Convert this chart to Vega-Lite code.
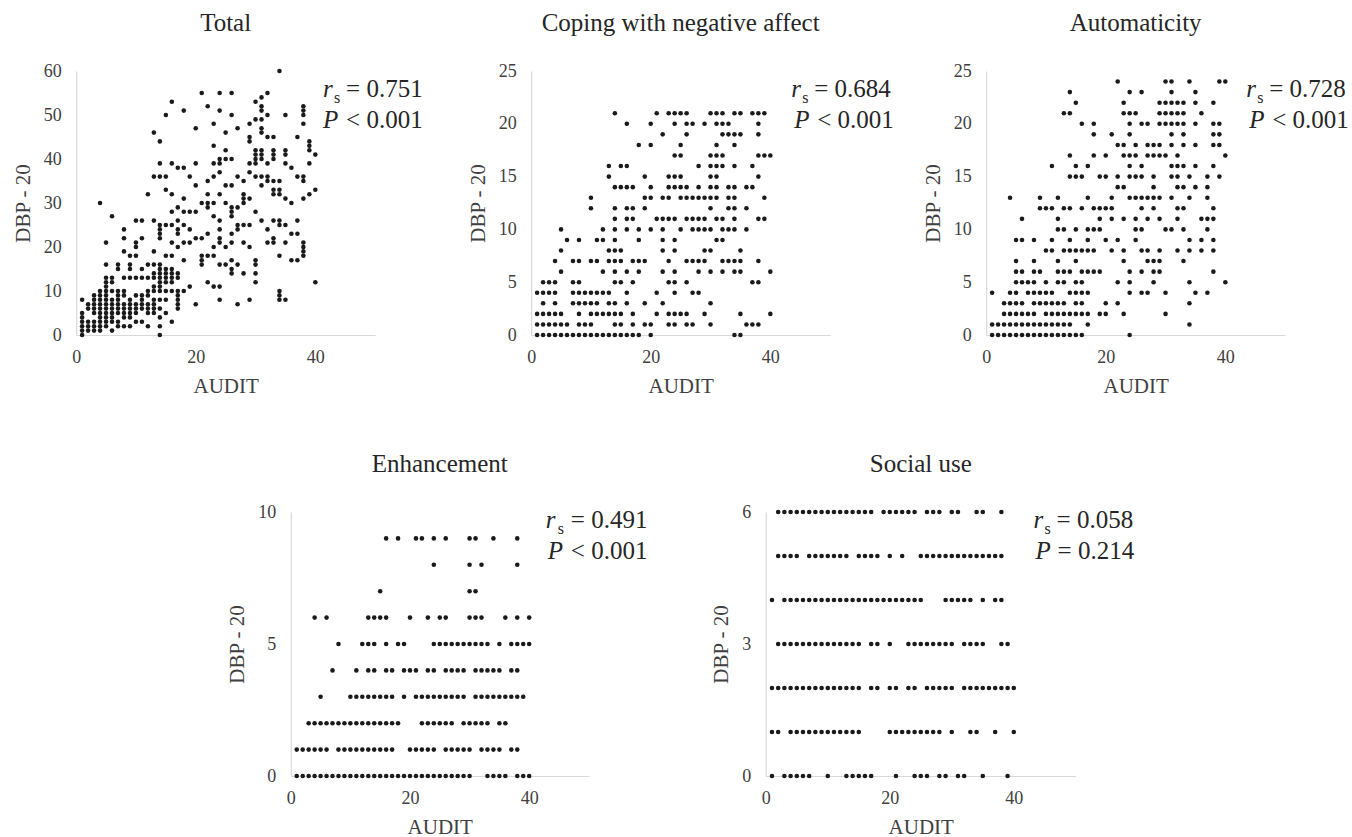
{
"$schema": "https://vega.github.io/schema/vega-lite/v6.json",
"padding": {"left": 12, "top": 11, "right": 2, "bottom": 5},
"center": true,
"spacing": 56,
"datasets": {
"total": [
{"x":1,"y":0},{"x":1,"y":1},{"x":1,"y":2},{"x":1,"y":3},{"x":1,"y":4},{"x":1,"y":5},{"x":1,"y":8},
{"x":2,"y":1},{"x":2,"y":2},{"x":2,"y":3},{"x":2,"y":6},{"x":2,"y":7},
{"x":3,"y":1},{"x":3,"y":2},{"x":3,"y":3},{"x":3,"y":5},{"x":3,"y":6},{"x":3,"y":7},{"x":3,"y":8},{"x":3,"y":9},
{"x":4,"y":1},{"x":4,"y":2},{"x":4,"y":3},{"x":4,"y":4},{"x":4,"y":5},{"x":4,"y":6},{"x":4,"y":7},{"x":4,"y":8},{"x":4,"y":9},{"x":4,"y":10},{"x":4,"y":30},
{"x":5,"y":2},{"x":5,"y":3},{"x":5,"y":4},{"x":5,"y":5},{"x":5,"y":6},{"x":5,"y":7},{"x":5,"y":8},{"x":5,"y":9},{"x":5,"y":10},{"x":5,"y":11},{"x":5,"y":12},{"x":5,"y":13},{"x":5,"y":16},{"x":5,"y":21},
{"x":6,"y":1},{"x":6,"y":3},{"x":6,"y":4},{"x":6,"y":5},{"x":6,"y":6},{"x":6,"y":7},{"x":6,"y":8},{"x":6,"y":10},{"x":6,"y":12},{"x":6,"y":13},{"x":6,"y":27},
{"x":7,"y":2},{"x":7,"y":3},{"x":7,"y":5},{"x":7,"y":6},{"x":7,"y":7},{"x":7,"y":8},{"x":7,"y":9},{"x":7,"y":10},{"x":7,"y":15},{"x":7,"y":16},
{"x":8,"y":2},{"x":8,"y":4},{"x":8,"y":5},{"x":8,"y":6},{"x":8,"y":7},{"x":8,"y":9},{"x":8,"y":10},{"x":8,"y":13},{"x":8,"y":19},{"x":8,"y":22},{"x":8,"y":24},
{"x":9,"y":2},{"x":9,"y":4},{"x":9,"y":5},{"x":9,"y":6},{"x":9,"y":7},{"x":9,"y":8},{"x":9,"y":13},{"x":9,"y":15},{"x":9,"y":16},{"x":9,"y":18},
{"x":10,"y":3},{"x":10,"y":5},{"x":10,"y":6},{"x":10,"y":7},{"x":10,"y":9},{"x":10,"y":13},{"x":10,"y":18},{"x":10,"y":20},{"x":10,"y":21},{"x":10,"y":26},
{"x":11,"y":3},{"x":11,"y":6},{"x":11,"y":7},{"x":11,"y":8},{"x":11,"y":9},{"x":11,"y":13},{"x":11,"y":15},{"x":11,"y":22},{"x":11,"y":26},
{"x":12,"y":2},{"x":12,"y":5},{"x":12,"y":6},{"x":12,"y":7},{"x":12,"y":9},{"x":12,"y":10},{"x":12,"y":13},{"x":12,"y":16},{"x":12,"y":32},
{"x":13,"y":5},{"x":13,"y":6},{"x":13,"y":7},{"x":13,"y":8},{"x":13,"y":10},{"x":13,"y":11},{"x":13,"y":13},{"x":13,"y":14},{"x":13,"y":16},{"x":13,"y":19},{"x":13,"y":26},{"x":13,"y":36},{"x":13,"y":46},
{"x":14,"y":0},{"x":14,"y":2},{"x":14,"y":4},{"x":14,"y":6},{"x":14,"y":8},{"x":14,"y":10},{"x":14,"y":11},{"x":14,"y":12},{"x":14,"y":13},{"x":14,"y":14},{"x":14,"y":15},{"x":14,"y":16},{"x":14,"y":22},{"x":14,"y":23},{"x":14,"y":24},{"x":14,"y":25},{"x":14,"y":36},{"x":14,"y":39},{"x":14,"y":44},
{"x":15,"y":5},{"x":15,"y":8},{"x":15,"y":10},{"x":15,"y":12},{"x":15,"y":13},{"x":15,"y":14},{"x":15,"y":15},{"x":15,"y":18},{"x":15,"y":25},{"x":15,"y":33},{"x":15,"y":36},{"x":15,"y":50},
{"x":16,"y":3},{"x":16,"y":10},{"x":16,"y":12},{"x":16,"y":13},{"x":16,"y":14},{"x":16,"y":15},{"x":16,"y":18},{"x":16,"y":21},{"x":16,"y":25},{"x":16,"y":28},{"x":16,"y":32},{"x":16,"y":39},{"x":16,"y":53},
{"x":17,"y":6},{"x":17,"y":7},{"x":17,"y":8},{"x":17,"y":9},{"x":17,"y":10},{"x":17,"y":13},{"x":17,"y":14},{"x":17,"y":20},{"x":17,"y":23},{"x":17,"y":24},{"x":17,"y":26},{"x":17,"y":29},{"x":17,"y":38},
{"x":18,"y":10},{"x":18,"y":17},{"x":18,"y":21},{"x":18,"y":25},{"x":18,"y":28},{"x":18,"y":31},{"x":18,"y":38},{"x":18,"y":51},
{"x":19,"y":11},{"x":19,"y":21},{"x":19,"y":24},{"x":19,"y":28},{"x":19,"y":36},
{"x":20,"y":7},{"x":20,"y":22},{"x":20,"y":28},{"x":20,"y":34},{"x":20,"y":39},{"x":20,"y":47},
{"x":21,"y":16},{"x":21,"y":17},{"x":21,"y":18},{"x":21,"y":22},{"x":21,"y":30},{"x":21,"y":55},
{"x":22,"y":12},{"x":22,"y":18},{"x":22,"y":23},{"x":22,"y":29},{"x":22,"y":30},{"x":22,"y":32},{"x":22,"y":35},{"x":22,"y":52},
{"x":23,"y":11},{"x":23,"y":18},{"x":23,"y":20},{"x":23,"y":27},{"x":23,"y":30},{"x":23,"y":36},{"x":23,"y":39},{"x":23,"y":43},{"x":23,"y":48},
{"x":24,"y":8},{"x":24,"y":11},{"x":24,"y":16},{"x":24,"y":21},{"x":24,"y":22},{"x":24,"y":24},{"x":24,"y":26},{"x":24,"y":32},{"x":24,"y":37},{"x":24,"y":39},{"x":24,"y":40},{"x":24,"y":51},{"x":24,"y":55},
{"x":25,"y":16},{"x":25,"y":20},{"x":25,"y":30},{"x":25,"y":34},{"x":25,"y":40},{"x":25,"y":42},{"x":25,"y":46},
{"x":26,"y":14},{"x":26,"y":15},{"x":26,"y":17},{"x":26,"y":21},{"x":26,"y":23},{"x":26,"y":27},{"x":26,"y":28},{"x":26,"y":29},{"x":26,"y":34},{"x":26,"y":40},{"x":26,"y":50},{"x":26,"y":55},
{"x":27,"y":7},{"x":27,"y":16},{"x":27,"y":24},{"x":27,"y":25},{"x":27,"y":29},{"x":27,"y":36},{"x":27,"y":47},
{"x":28,"y":14},{"x":28,"y":21},{"x":28,"y":25},{"x":28,"y":30},{"x":28,"y":31},{"x":28,"y":32},{"x":28,"y":35},
{"x":29,"y":8},{"x":29,"y":20},{"x":29,"y":25},{"x":29,"y":31},{"x":29,"y":37},{"x":29,"y":39},{"x":29,"y":44},{"x":29,"y":45},{"x":29,"y":48},
{"x":30,"y":12},{"x":30,"y":14},{"x":30,"y":16},{"x":30,"y":17},{"x":30,"y":28},{"x":30,"y":36},{"x":30,"y":39},{"x":30,"y":40},{"x":30,"y":41},{"x":30,"y":42},{"x":30,"y":49},{"x":30,"y":53},
{"x":31,"y":26},{"x":31,"y":34},{"x":31,"y":36},{"x":31,"y":40},{"x":31,"y":41},{"x":31,"y":42},{"x":31,"y":46},{"x":31,"y":47},{"x":31,"y":49},{"x":31,"y":51},{"x":31,"y":52},{"x":31,"y":54},
{"x":32,"y":21},{"x":32,"y":24},{"x":32,"y":35},{"x":32,"y":36},{"x":32,"y":39},{"x":32,"y":45},{"x":32,"y":50},{"x":32,"y":55},
{"x":33,"y":21},{"x":33,"y":22},{"x":33,"y":26},{"x":33,"y":32},{"x":33,"y":33},{"x":33,"y":35},{"x":33,"y":40},{"x":33,"y":41},{"x":33,"y":42},{"x":33,"y":45},
{"x":34,"y":8},{"x":34,"y":9},{"x":34,"y":10},{"x":34,"y":18},{"x":34,"y":25},{"x":34,"y":26},{"x":34,"y":32},{"x":34,"y":33},{"x":34,"y":35},{"x":34,"y":60},
{"x":35,"y":8},{"x":35,"y":21},{"x":35,"y":25},{"x":35,"y":31},{"x":35,"y":39},{"x":35,"y":41},{"x":35,"y":42},{"x":35,"y":50},
{"x":36,"y":17},{"x":36,"y":23},{"x":36,"y":30},{"x":36,"y":38},
{"x":37,"y":17},{"x":37,"y":23},{"x":37,"y":26},{"x":37,"y":36},{"x":37,"y":45},
{"x":38,"y":18},{"x":38,"y":19},{"x":38,"y":20},{"x":38,"y":21},{"x":38,"y":31},{"x":38,"y":35},{"x":38,"y":36},{"x":38,"y":48},{"x":38,"y":50},{"x":38,"y":51},{"x":38,"y":52},
{"x":39,"y":32},{"x":39,"y":39},{"x":39,"y":42},{"x":39,"y":43},{"x":39,"y":44},
{"x":40,"y":12},{"x":40,"y":33},{"x":40,"y":41}
],
"coping": [
{"y":21,"x":14},{"y":21,"x":21},{"y":21,"x":23},{"y":21,"x":24},{"y":21,"x":25},{"y":21,"x":26},{"y":21,"x":30},{"y":21,"x":31},{"y":21,"x":32},{"y":21,"x":34},{"y":21,"x":35},{"y":21,"x":37},{"y":21,"x":38},{"y":21,"x":39},
{"y":20,"x":16},{"y":20,"x":20},{"y":20,"x":24},{"y":20,"x":26},{"y":20,"x":27},{"y":20,"x":29},{"y":20,"x":31},{"y":20,"x":32},{"y":20,"x":33},{"y":20,"x":38},
{"y":19,"x":22},{"y":19,"x":26},{"y":19,"x":32},{"y":19,"x":33},{"y":19,"x":34},{"y":19,"x":35},{"y":19,"x":38},
{"y":18,"x":18},{"y":18,"x":20},{"y":18,"x":25},{"y":18,"x":31},{"y":18,"x":34},
{"y":17,"x":24},{"y":17,"x":25},{"y":17,"x":30},{"y":17,"x":31},{"y":17,"x":32},{"y":17,"x":38},{"y":17,"x":39},{"y":17,"x":40},
{"y":16,"x":13},{"y":16,"x":15},{"y":16,"x":16},{"y":16,"x":28},{"y":16,"x":30},{"y":16,"x":31},{"y":16,"x":32},{"y":16,"x":34},{"y":16,"x":37},
{"y":15,"x":13},{"y":15,"x":19},{"y":15,"x":23},{"y":15,"x":24},{"y":15,"x":25},{"y":15,"x":30},{"y":15,"x":31},{"y":15,"x":38},
{"y":14,"x":14},{"y":14,"x":15},{"y":14,"x":16},{"y":14,"x":17},{"y":14,"x":20},{"y":14,"x":23},{"y":14,"x":24},{"y":14,"x":25},{"y":14,"x":26},{"y":14,"x":28},{"y":14,"x":30},{"y":14,"x":31},{"y":14,"x":33},{"y":14,"x":34},{"y":14,"x":36},{"y":14,"x":37},
{"y":13,"x":10},{"y":13,"x":19},{"y":13,"x":20},{"y":13,"x":22},{"y":13,"x":23},{"y":13,"x":25},{"y":13,"x":26},{"y":13,"x":27},{"y":13,"x":28},{"y":13,"x":29},{"y":13,"x":30},{"y":13,"x":31},{"y":13,"x":33},{"y":13,"x":34},{"y":13,"x":39},
{"y":12,"x":10},{"y":12,"x":14},{"y":12,"x":16},{"y":12,"x":17},{"y":12,"x":19},{"y":12,"x":30},{"y":12,"x":33},{"y":12,"x":34},{"y":12,"x":36},
{"y":11,"x":14},{"y":11,"x":16},{"y":11,"x":17},{"y":11,"x":21},{"y":11,"x":22},{"y":11,"x":23},{"y":11,"x":24},{"y":11,"x":26},{"y":11,"x":27},{"y":11,"x":28},{"y":11,"x":29},{"y":11,"x":31},{"y":11,"x":32},{"y":11,"x":34},{"y":11,"x":38},{"y":11,"x":39},
{"y":10,"x":5},{"y":10,"x":12},{"y":10,"x":14},{"y":10,"x":16},{"y":10,"x":18},{"y":10,"x":20},{"y":10,"x":22},{"y":10,"x":25},{"y":10,"x":27},{"y":10,"x":28},{"y":10,"x":29},{"y":10,"x":30},{"y":10,"x":32},{"y":10,"x":33},{"y":10,"x":34},{"y":10,"x":36},
{"y":9,"x":6},{"y":9,"x":8},{"y":9,"x":11},{"y":9,"x":12},{"y":9,"x":14},{"y":9,"x":18},{"y":9,"x":22},{"y":9,"x":24},{"y":9,"x":31},{"y":9,"x":32},
{"y":8,"x":5},{"y":8,"x":13},{"y":8,"x":14},{"y":8,"x":15},{"y":8,"x":22},{"y":8,"x":24},{"y":8,"x":29},{"y":8,"x":30},{"y":8,"x":35},
{"y":7,"x":4},{"y":7,"x":7},{"y":7,"x":8},{"y":7,"x":10},{"y":7,"x":11},{"y":7,"x":13},{"y":7,"x":14},{"y":7,"x":15},{"y":7,"x":17},{"y":7,"x":18},{"y":7,"x":19},{"y":7,"x":23},{"y":7,"x":26},{"y":7,"x":27},{"y":7,"x":28},{"y":7,"x":29},{"y":7,"x":32},{"y":7,"x":33},{"y":7,"x":34},{"y":7,"x":35},{"y":7,"x":38},
{"y":6,"x":5},{"y":6,"x":12},{"y":6,"x":14},{"y":6,"x":16},{"y":6,"x":18},{"y":6,"x":22},{"y":6,"x":24},{"y":6,"x":28},{"y":6,"x":30},{"y":6,"x":32},{"y":6,"x":34},{"y":6,"x":35},{"y":6,"x":40},
{"y":5,"x":2},{"y":5,"x":3},{"y":5,"x":4},{"y":5,"x":7},{"y":5,"x":8},{"y":5,"x":14},{"y":5,"x":15},{"y":5,"x":17},{"y":5,"x":23},{"y":5,"x":24},{"y":5,"x":26},{"y":5,"x":37},{"y":5,"x":38},
{"y":4,"x":1},{"y":4,"x":2},{"y":4,"x":3},{"y":4,"x":4},{"y":4,"x":7},{"y":4,"x":8},{"y":4,"x":9},{"y":4,"x":10},{"y":4,"x":11},{"y":4,"x":12},{"y":4,"x":13},{"y":4,"x":16},{"y":4,"x":21},{"y":4,"x":24},{"y":4,"x":27},{"y":4,"x":28},
{"y":3,"x":2},{"y":3,"x":4},{"y":3,"x":7},{"y":3,"x":8},{"y":3,"x":9},{"y":3,"x":10},{"y":3,"x":11},{"y":3,"x":13},{"y":3,"x":14},{"y":3,"x":16},{"y":3,"x":19},{"y":3,"x":22},{"y":3,"x":30},
{"y":2,"x":1},{"y":2,"x":2},{"y":2,"x":3},{"y":2,"x":4},{"y":2,"x":5},{"y":2,"x":8},{"y":2,"x":10},{"y":2,"x":11},{"y":2,"x":12},{"y":2,"x":13},{"y":2,"x":14},{"y":2,"x":15},{"y":2,"x":17},{"y":2,"x":21},{"y":2,"x":23},{"y":2,"x":24},{"y":2,"x":25},{"y":2,"x":26},{"y":2,"x":29},{"y":2,"x":35},{"y":2,"x":40},
{"y":1,"x":1},{"y":1,"x":2},{"y":1,"x":3},{"y":1,"x":4},{"y":1,"x":5},{"y":1,"x":6},{"y":1,"x":8},{"y":1,"x":9},{"y":1,"x":10},{"y":1,"x":14},{"y":1,"x":15},{"y":1,"x":17},{"y":1,"x":19},{"y":1,"x":20},{"y":1,"x":23},{"y":1,"x":24},{"y":1,"x":26},{"y":1,"x":27},{"y":1,"x":30},{"y":1,"x":36},{"y":1,"x":37},{"y":1,"x":38},
{"y":0,"x":1},{"y":0,"x":2},{"y":0,"x":3},{"y":0,"x":4},{"y":0,"x":5},{"y":0,"x":6},{"y":0,"x":7},{"y":0,"x":8},{"y":0,"x":9},{"y":0,"x":10},{"y":0,"x":11},{"y":0,"x":12},{"y":0,"x":13},{"y":0,"x":14},{"y":0,"x":15},{"y":0,"x":16},{"y":0,"x":17},{"y":0,"x":18},{"y":0,"x":20},{"y":0,"x":34},{"y":0,"x":35}
],
"auto": [
{"y":24,"x":22},{"y":24,"x":30},{"y":24,"x":31},{"y":24,"x":34},{"y":24,"x":39},{"y":24,"x":40},
{"y":23,"x":14},{"y":23,"x":24},{"y":23,"x":26},{"y":23,"x":31},{"y":23,"x":35},
{"y":22,"x":15},{"y":22,"x":23},{"y":22,"x":29},{"y":22,"x":30},{"y":22,"x":31},{"y":22,"x":32},{"y":22,"x":33},{"y":22,"x":35},{"y":22,"x":38},
{"y":21,"x":13},{"y":21,"x":14},{"y":21,"x":23},{"y":21,"x":24},{"y":21,"x":25},{"y":21,"x":29},{"y":21,"x":30},{"y":21,"x":31},{"y":21,"x":32},{"y":21,"x":33},{"y":21,"x":36},
{"y":20,"x":16},{"y":20,"x":18},{"y":20,"x":24},{"y":20,"x":26},{"y":20,"x":27},{"y":20,"x":29},{"y":20,"x":30},{"y":20,"x":31},{"y":20,"x":32},{"y":20,"x":33},{"y":20,"x":35},{"y":20,"x":38},{"y":20,"x":39},
{"y":19,"x":18},{"y":19,"x":21},{"y":19,"x":24},{"y":19,"x":31},{"y":19,"x":33},{"y":19,"x":38},{"y":19,"x":39},
{"y":18,"x":22},{"y":18,"x":23},{"y":18,"x":25},{"y":18,"x":27},{"y":18,"x":28},{"y":18,"x":29},{"y":18,"x":31},{"y":18,"x":33},{"y":18,"x":35},{"y":18,"x":38},{"y":18,"x":39},
{"y":17,"x":14},{"y":17,"x":18},{"y":17,"x":20},{"y":17,"x":23},{"y":17,"x":24},{"y":17,"x":25},{"y":17,"x":27},{"y":17,"x":28},{"y":17,"x":29},{"y":17,"x":30},{"y":17,"x":32},{"y":17,"x":40},
{"y":16,"x":11},{"y":16,"x":15},{"y":16,"x":17},{"y":16,"x":24},{"y":16,"x":26},{"y":16,"x":31},{"y":16,"x":32},{"y":16,"x":33},{"y":16,"x":35},{"y":16,"x":38},
{"y":15,"x":14},{"y":15,"x":15},{"y":15,"x":16},{"y":15,"x":19},{"y":15,"x":20},{"y":15,"x":22},{"y":15,"x":24},{"y":15,"x":25},{"y":15,"x":26},{"y":15,"x":28},{"y":15,"x":31},{"y":15,"x":32},{"y":15,"x":34},{"y":15,"x":37},{"y":15,"x":39},
{"y":14,"x":22},{"y":14,"x":23},{"y":14,"x":28},{"y":14,"x":32},{"y":14,"x":33},{"y":14,"x":35},{"y":14,"x":37},
{"y":13,"x":4},{"y":13,"x":9},{"y":13,"x":12},{"y":13,"x":17},{"y":13,"x":21},{"y":13,"x":24},{"y":13,"x":25},{"y":13,"x":26},{"y":13,"x":27},{"y":13,"x":28},{"y":13,"x":29},{"y":13,"x":31},{"y":13,"x":34},{"y":13,"x":37},
{"y":12,"x":9},{"y":12,"x":10},{"y":12,"x":11},{"y":12,"x":13},{"y":12,"x":14},{"y":12,"x":16},{"y":12,"x":18},{"y":12,"x":19},{"y":12,"x":20},{"y":12,"x":21},{"y":12,"x":26},{"y":12,"x":28},{"y":12,"x":32},{"y":12,"x":33},{"y":12,"x":38},
{"y":11,"x":6},{"y":11,"x":12},{"y":11,"x":19},{"y":11,"x":21},{"y":11,"x":23},{"y":11,"x":25},{"y":11,"x":27},{"y":11,"x":29},{"y":11,"x":32},{"y":11,"x":36},{"y":11,"x":37},{"y":11,"x":38},
{"y":10,"x":12},{"y":10,"x":13},{"y":10,"x":15},{"y":10,"x":17},{"y":10,"x":18},{"y":10,"x":19},{"y":10,"x":25},{"y":10,"x":26},{"y":10,"x":30},{"y":10,"x":31},{"y":10,"x":33},{"y":10,"x":37},
{"y":9,"x":5},{"y":9,"x":6},{"y":9,"x":8},{"y":9,"x":11},{"y":9,"x":14},{"y":9,"x":17},{"y":9,"x":20},{"y":9,"x":22},{"y":9,"x":25},{"y":9,"x":34},{"y":9,"x":36},{"y":9,"x":38},
{"y":8,"x":10},{"y":8,"x":11},{"y":8,"x":13},{"y":8,"x":14},{"y":8,"x":15},{"y":8,"x":16},{"y":8,"x":17},{"y":8,"x":18},{"y":8,"x":21},{"y":8,"x":23},{"y":8,"x":26},{"y":8,"x":27},{"y":8,"x":29},{"y":8,"x":32},{"y":8,"x":34},{"y":8,"x":36},{"y":8,"x":38},
{"y":7,"x":5},{"y":7,"x":8},{"y":7,"x":12},{"y":7,"x":15},{"y":7,"x":23},{"y":7,"x":27},{"y":7,"x":28},{"y":7,"x":29},{"y":7,"x":33},
{"y":6,"x":5},{"y":6,"x":6},{"y":6,"x":8},{"y":6,"x":9},{"y":6,"x":12},{"y":6,"x":13},{"y":6,"x":14},{"y":6,"x":16},{"y":6,"x":17},{"y":6,"x":18},{"y":6,"x":19},{"y":6,"x":24},{"y":6,"x":26},{"y":6,"x":28},{"y":6,"x":29},{"y":6,"x":38},
{"y":5,"x":5},{"y":5,"x":6},{"y":5,"x":7},{"y":5,"x":8},{"y":5,"x":10},{"y":5,"x":12},{"y":5,"x":13},{"y":5,"x":15},{"y":5,"x":16},{"y":5,"x":22},{"y":5,"x":24},{"y":5,"x":28},{"y":5,"x":34},{"y":5,"x":40},
{"y":4,"x":1},{"y":4,"x":4},{"y":4,"x":5},{"y":4,"x":7},{"y":4,"x":8},{"y":4,"x":9},{"y":4,"x":10},{"y":4,"x":11},{"y":4,"x":14},{"y":4,"x":15},{"y":4,"x":16},{"y":4,"x":17},{"y":4,"x":24},{"y":4,"x":26},{"y":4,"x":27},{"y":4,"x":30},{"y":4,"x":35},{"y":4,"x":37},
{"y":3,"x":3},{"y":3,"x":4},{"y":3,"x":5},{"y":3,"x":6},{"y":3,"x":8},{"y":3,"x":9},{"y":3,"x":10},{"y":3,"x":11},{"y":3,"x":12},{"y":3,"x":13},{"y":3,"x":15},{"y":3,"x":16},{"y":3,"x":20},{"y":3,"x":22},{"y":3,"x":34},
{"y":2,"x":3},{"y":2,"x":4},{"y":2,"x":5},{"y":2,"x":6},{"y":2,"x":7},{"y":2,"x":8},{"y":2,"x":10},{"y":2,"x":11},{"y":2,"x":12},{"y":2,"x":13},{"y":2,"x":14},{"y":2,"x":15},{"y":2,"x":16},{"y":2,"x":17},{"y":2,"x":19},{"y":2,"x":20},{"y":2,"x":23},{"y":2,"x":30},
{"y":1,"x":1},{"y":1,"x":2},{"y":1,"x":3},{"y":1,"x":4},{"y":1,"x":5},{"y":1,"x":6},{"y":1,"x":7},{"y":1,"x":8},{"y":1,"x":9},{"y":1,"x":10},{"y":1,"x":11},{"y":1,"x":12},{"y":1,"x":13},{"y":1,"x":14},{"y":1,"x":17},{"y":1,"x":34},
{"y":0,"x":1},{"y":0,"x":2},{"y":0,"x":3},{"y":0,"x":4},{"y":0,"x":5},{"y":0,"x":6},{"y":0,"x":7},{"y":0,"x":8},{"y":0,"x":9},{"y":0,"x":10},{"y":0,"x":11},{"y":0,"x":12},{"y":0,"x":13},{"y":0,"x":14},{"y":0,"x":15},{"y":0,"x":16},{"y":0,"x":24}
],
"enh": [
{"y":9,"x":16},{"y":9,"x":18},{"y":9,"x":21},{"y":9,"x":22},{"y":9,"x":24},{"y":9,"x":26},{"y":9,"x":30},{"y":9,"x":31},{"y":9,"x":34},{"y":9,"x":38},
{"y":8,"x":24},{"y":8,"x":30},{"y":8,"x":32},{"y":8,"x":38},
{"y":7,"x":15},{"y":7,"x":30},{"y":7,"x":31},
{"y":6,"x":4},{"y":6,"x":6},{"y":6,"x":13},{"y":6,"x":14},{"y":6,"x":15},{"y":6,"x":16},{"y":6,"x":20},{"y":6,"x":23},{"y":6,"x":25},{"y":6,"x":26},{"y":6,"x":30},{"y":6,"x":31},{"y":6,"x":32},{"y":6,"x":36},{"y":6,"x":38},{"y":6,"x":40},
{"y":5,"x":8},{"y":5,"x":12},{"y":5,"x":13},{"y":5,"x":14},{"y":5,"x":16},{"y":5,"x":18},{"y":5,"x":19},{"y":5,"x":24},{"y":5,"x":25},{"y":5,"x":26},{"y":5,"x":27},{"y":5,"x":28},{"y":5,"x":29},{"y":5,"x":30},{"y":5,"x":31},{"y":5,"x":32},{"y":5,"x":33},{"y":5,"x":35},{"y":5,"x":37},{"y":5,"x":38},{"y":5,"x":39},{"y":5,"x":40},
{"y":4,"x":7},{"y":4,"x":11},{"y":4,"x":13},{"y":4,"x":14},{"y":4,"x":16},{"y":4,"x":17},{"y":4,"x":19},{"y":4,"x":20},{"y":4,"x":21},{"y":4,"x":23},{"y":4,"x":24},{"y":4,"x":26},{"y":4,"x":27},{"y":4,"x":28},{"y":4,"x":29},{"y":4,"x":31},{"y":4,"x":32},{"y":4,"x":33},{"y":4,"x":34},{"y":4,"x":35},{"y":4,"x":37},{"y":4,"x":38},
{"y":3,"x":5},{"y":3,"x":10},{"y":3,"x":11},{"y":3,"x":12},{"y":3,"x":13},{"y":3,"x":14},{"y":3,"x":15},{"y":3,"x":16},{"y":3,"x":17},{"y":3,"x":19},{"y":3,"x":21},{"y":3,"x":22},{"y":3,"x":23},{"y":3,"x":24},{"y":3,"x":25},{"y":3,"x":26},{"y":3,"x":27},{"y":3,"x":28},{"y":3,"x":29},{"y":3,"x":31},{"y":3,"x":32},{"y":3,"x":33},{"y":3,"x":34},{"y":3,"x":35},{"y":3,"x":36},{"y":3,"x":37},{"y":3,"x":38},{"y":3,"x":39},
{"y":2,"x":3},{"y":2,"x":4},{"y":2,"x":5},{"y":2,"x":6},{"y":2,"x":7},{"y":2,"x":8},{"y":2,"x":9},{"y":2,"x":10},{"y":2,"x":11},{"y":2,"x":12},{"y":2,"x":13},{"y":2,"x":14},{"y":2,"x":15},{"y":2,"x":16},{"y":2,"x":17},{"y":2,"x":18},{"y":2,"x":22},{"y":2,"x":23},{"y":2,"x":24},{"y":2,"x":25},{"y":2,"x":26},{"y":2,"x":27},{"y":2,"x":29},{"y":2,"x":30},{"y":2,"x":31},{"y":2,"x":32},{"y":2,"x":33},{"y":2,"x":35},{"y":2,"x":36},
{"y":1,"x":1},{"y":1,"x":2},{"y":1,"x":3},{"y":1,"x":4},{"y":1,"x":5},{"y":1,"x":6},{"y":1,"x":8},{"y":1,"x":9},{"y":1,"x":10},{"y":1,"x":11},{"y":1,"x":12},{"y":1,"x":13},{"y":1,"x":14},{"y":1,"x":15},{"y":1,"x":16},{"y":1,"x":17},{"y":1,"x":20},{"y":1,"x":21},{"y":1,"x":22},{"y":1,"x":23},{"y":1,"x":24},{"y":1,"x":26},{"y":1,"x":27},{"y":1,"x":28},{"y":1,"x":29},{"y":1,"x":30},{"y":1,"x":32},{"y":1,"x":33},{"y":1,"x":34},{"y":1,"x":35},{"y":1,"x":37},{"y":1,"x":38},
{"y":0,"x":1},{"y":0,"x":2},{"y":0,"x":3},{"y":0,"x":4},{"y":0,"x":5},{"y":0,"x":6},{"y":0,"x":7},{"y":0,"x":8},{"y":0,"x":9},{"y":0,"x":10},{"y":0,"x":11},{"y":0,"x":12},{"y":0,"x":13},{"y":0,"x":14},{"y":0,"x":15},{"y":0,"x":16},{"y":0,"x":17},{"y":0,"x":18},{"y":0,"x":19},{"y":0,"x":20},{"y":0,"x":21},{"y":0,"x":22},{"y":0,"x":23},{"y":0,"x":24},{"y":0,"x":25},{"y":0,"x":26},{"y":0,"x":27},{"y":0,"x":28},{"y":0,"x":29},{"y":0,"x":30},{"y":0,"x":33},{"y":0,"x":34},{"y":0,"x":35},{"y":0,"x":36},{"y":0,"x":38},{"y":0,"x":39},{"y":0,"x":40}
],
"social": [
{"y":6,"x":2},{"y":6,"x":3},{"y":6,"x":4},{"y":6,"x":5},{"y":6,"x":6},{"y":6,"x":7},{"y":6,"x":8},{"y":6,"x":9},{"y":6,"x":10},{"y":6,"x":11},{"y":6,"x":12},{"y":6,"x":13},{"y":6,"x":14},{"y":6,"x":15},{"y":6,"x":16},{"y":6,"x":17},{"y":6,"x":19},{"y":6,"x":20},{"y":6,"x":21},{"y":6,"x":22},{"y":6,"x":23},{"y":6,"x":24},{"y":6,"x":26},{"y":6,"x":27},{"y":6,"x":28},{"y":6,"x":30},{"y":6,"x":31},{"y":6,"x":34},{"y":6,"x":35},{"y":6,"x":38},
{"y":5,"x":2},{"y":5,"x":3},{"y":5,"x":4},{"y":5,"x":5},{"y":5,"x":7},{"y":5,"x":8},{"y":5,"x":9},{"y":5,"x":10},{"y":5,"x":11},{"y":5,"x":12},{"y":5,"x":13},{"y":5,"x":15},{"y":5,"x":16},{"y":5,"x":17},{"y":5,"x":18},{"y":5,"x":20},{"y":5,"x":22},{"y":5,"x":25},{"y":5,"x":26},{"y":5,"x":27},{"y":5,"x":28},{"y":5,"x":29},{"y":5,"x":30},{"y":5,"x":31},{"y":5,"x":32},{"y":5,"x":33},{"y":5,"x":34},{"y":5,"x":35},{"y":5,"x":36},{"y":5,"x":37},{"y":5,"x":38},
{"y":4,"x":1},{"y":4,"x":3},{"y":4,"x":4},{"y":4,"x":5},{"y":4,"x":6},{"y":4,"x":7},{"y":4,"x":8},{"y":4,"x":9},{"y":4,"x":10},{"y":4,"x":11},{"y":4,"x":12},{"y":4,"x":13},{"y":4,"x":14},{"y":4,"x":15},{"y":4,"x":16},{"y":4,"x":17},{"y":4,"x":18},{"y":4,"x":19},{"y":4,"x":20},{"y":4,"x":21},{"y":4,"x":22},{"y":4,"x":23},{"y":4,"x":24},{"y":4,"x":25},{"y":4,"x":29},{"y":4,"x":30},{"y":4,"x":31},{"y":4,"x":32},{"y":4,"x":33},{"y":4,"x":35},{"y":4,"x":37},{"y":4,"x":38},
{"y":3,"x":2},{"y":3,"x":3},{"y":3,"x":4},{"y":3,"x":5},{"y":3,"x":6},{"y":3,"x":7},{"y":3,"x":8},{"y":3,"x":9},{"y":3,"x":10},{"y":3,"x":11},{"y":3,"x":12},{"y":3,"x":13},{"y":3,"x":14},{"y":3,"x":15},{"y":3,"x":17},{"y":3,"x":18},{"y":3,"x":20},{"y":3,"x":23},{"y":3,"x":24},{"y":3,"x":25},{"y":3,"x":26},{"y":3,"x":27},{"y":3,"x":28},{"y":3,"x":29},{"y":3,"x":30},{"y":3,"x":32},{"y":3,"x":33},{"y":3,"x":34},{"y":3,"x":35},{"y":3,"x":38},{"y":3,"x":39},
{"y":2,"x":1},{"y":2,"x":2},{"y":2,"x":3},{"y":2,"x":4},{"y":2,"x":5},{"y":2,"x":6},{"y":2,"x":7},{"y":2,"x":8},{"y":2,"x":9},{"y":2,"x":10},{"y":2,"x":11},{"y":2,"x":12},{"y":2,"x":13},{"y":2,"x":14},{"y":2,"x":15},{"y":2,"x":17},{"y":2,"x":18},{"y":2,"x":20},{"y":2,"x":21},{"y":2,"x":23},{"y":2,"x":24},{"y":2,"x":26},{"y":2,"x":27},{"y":2,"x":28},{"y":2,"x":29},{"y":2,"x":30},{"y":2,"x":32},{"y":2,"x":33},{"y":2,"x":34},{"y":2,"x":35},{"y":2,"x":36},{"y":2,"x":37},{"y":2,"x":38},{"y":2,"x":39},{"y":2,"x":40},
{"y":1,"x":1},{"y":1,"x":2},{"y":1,"x":4},{"y":1,"x":5},{"y":1,"x":6},{"y":1,"x":7},{"y":1,"x":8},{"y":1,"x":9},{"y":1,"x":10},{"y":1,"x":11},{"y":1,"x":12},{"y":1,"x":13},{"y":1,"x":14},{"y":1,"x":15},{"y":1,"x":20},{"y":1,"x":21},{"y":1,"x":22},{"y":1,"x":23},{"y":1,"x":24},{"y":1,"x":25},{"y":1,"x":26},{"y":1,"x":27},{"y":1,"x":28},{"y":1,"x":30},{"y":1,"x":33},{"y":1,"x":34},{"y":1,"x":37},{"y":1,"x":40},
{"y":0,"x":1},{"y":0,"x":3},{"y":0,"x":4},{"y":0,"x":5},{"y":0,"x":6},{"y":0,"x":7},{"y":0,"x":10},{"y":0,"x":13},{"y":0,"x":14},{"y":0,"x":15},{"y":0,"x":16},{"y":0,"x":17},{"y":0,"x":21},{"y":0,"x":24},{"y":0,"x":25},{"y":0,"x":26},{"y":0,"x":28},{"y":0,"x":29},{"y":0,"x":31},{"y":0,"x":32},{"y":0,"x":35},{"y":0,"x":39}
]
},
"vconcat": [
{
"bounds": "flush",
"spacing": 156,
"hconcat": [
{
"width": 299, "height": 264,
"title": "Total",
"layer": [
{"data": {"name": "total"}, "mark": {"type": "circle", "size": 21, "color": "#1a1a1a", "opacity": 1},
 "encoding": {
  "x": {"field": "x", "type": "quantitative", "scale": {"domain": [0, 50], "nice": false}, "axis": {"values": [0, 20, 40], "title": "AUDIT"}},
  "y": {"field": "y", "type": "quantitative", "scale": {"domain": [0, 60], "nice": false}, "axis": {"values": [0, 10, 20, 30, 40, 50, 60], "title": "DBP - 20"}}}},
{"data": {"values": [{}]}, "mark": {"type": "text", "text": "r", "fontStyle": "italic", "fontSize": 25, "align": "left", "baseline": "alphabetic", "color": "#262626"},
 "encoding": {"x": {"datum": 41.3, "type": "quantitative"}, "y": {"datum": 54.1, "type": "quantitative"}}},
{"data": {"values": [{}]}, "mark": {"type": "text", "text": "s", "fontSize": 16, "dx": 11, "dy": 6, "align": "left", "baseline": "alphabetic", "color": "#262626"},
 "encoding": {"x": {"datum": 41.3, "type": "quantitative"}, "y": {"datum": 54.1, "type": "quantitative"}}},
{"data": {"values": [{}]}, "mark": {"type": "text", "text": "= 0.751", "fontSize": 25, "dx": 23, "align": "left", "baseline": "alphabetic", "color": "#262626"},
 "encoding": {"x": {"datum": 41.3, "type": "quantitative"}, "y": {"datum": 54.1, "type": "quantitative"}}},
{"data": {"values": [{}]}, "mark": {"type": "text", "text": "P", "fontStyle": "italic", "fontSize": 25, "dy": 31, "align": "left", "baseline": "alphabetic", "color": "#262626"},
 "encoding": {"x": {"datum": 41.3, "type": "quantitative"}, "y": {"datum": 54.1, "type": "quantitative"}}},
{"data": {"values": [{}]}, "mark": {"type": "text", "text": "< 0.001", "fontSize": 25, "dx": 23, "dy": 31, "align": "left", "baseline": "alphabetic", "color": "#262626"},
 "encoding": {"x": {"datum": 41.3, "type": "quantitative"}, "y": {"datum": 54.1, "type": "quantitative"}}}
]
},
{
"width": 299, "height": 264,
"title": "Coping with negative affect",
"layer": [
{"data": {"name": "coping"}, "mark": {"type": "circle", "size": 21, "color": "#1a1a1a", "opacity": 1},
 "encoding": {
  "x": {"field": "x", "type": "quantitative", "scale": {"domain": [0, 50], "nice": false}, "axis": {"values": [0, 20, 40], "title": "AUDIT"}},
  "y": {"field": "y", "type": "quantitative", "scale": {"domain": [0, 25], "nice": false}, "axis": {"values": [0, 5, 10, 15, 20, 25], "title": "DBP - 20"}}}},
{"data": {"values": [{}]}, "mark": {"type": "text", "text": "r", "fontStyle": "italic", "fontSize": 25, "align": "left", "baseline": "alphabetic", "color": "#262626"},
 "encoding": {"x": {"datum": 43.5, "type": "quantitative"}, "y": {"datum": 22.5, "type": "quantitative"}}},
{"data": {"values": [{}]}, "mark": {"type": "text", "text": "s", "fontSize": 16, "dx": 11, "dy": 6, "align": "left", "baseline": "alphabetic", "color": "#262626"},
 "encoding": {"x": {"datum": 43.5, "type": "quantitative"}, "y": {"datum": 22.5, "type": "quantitative"}}},
{"data": {"values": [{}]}, "mark": {"type": "text", "text": "= 0.684", "fontSize": 25, "dx": 23, "align": "left", "baseline": "alphabetic", "color": "#262626"},
 "encoding": {"x": {"datum": 43.5, "type": "quantitative"}, "y": {"datum": 22.5, "type": "quantitative"}}},
{"data": {"values": [{}]}, "mark": {"type": "text", "text": "P", "fontStyle": "italic", "fontSize": 25, "dx": 3, "dy": 31, "align": "left", "baseline": "alphabetic", "color": "#262626"},
 "encoding": {"x": {"datum": 43.5, "type": "quantitative"}, "y": {"datum": 22.5, "type": "quantitative"}}},
{"data": {"values": [{}]}, "mark": {"type": "text", "text": "< 0.001", "fontSize": 25, "dx": 26, "dy": 31, "align": "left", "baseline": "alphabetic", "color": "#262626"},
 "encoding": {"x": {"datum": 43.5, "type": "quantitative"}, "y": {"datum": 22.5, "type": "quantitative"}}}
]
},
{
"width": 299, "height": 264,
"title": "Automaticity",
"layer": [
{"data": {"name": "auto"}, "mark": {"type": "circle", "size": 21, "color": "#1a1a1a", "opacity": 1},
 "encoding": {
  "x": {"field": "x", "type": "quantitative", "scale": {"domain": [0, 50], "nice": false}, "axis": {"values": [0, 20, 40], "title": "AUDIT"}},
  "y": {"field": "y", "type": "quantitative", "scale": {"domain": [0, 25], "nice": false}, "axis": {"values": [0, 5, 10, 15, 20, 25], "title": "DBP - 20"}}}},
{"data": {"values": [{}]}, "mark": {"type": "text", "text": "r", "fontStyle": "italic", "fontSize": 25, "align": "left", "baseline": "alphabetic", "color": "#262626"},
 "encoding": {"x": {"datum": 43.5, "type": "quantitative"}, "y": {"datum": 22.5, "type": "quantitative"}}},
{"data": {"values": [{}]}, "mark": {"type": "text", "text": "s", "fontSize": 16, "dx": 11, "dy": 6, "align": "left", "baseline": "alphabetic", "color": "#262626"},
 "encoding": {"x": {"datum": 43.5, "type": "quantitative"}, "y": {"datum": 22.5, "type": "quantitative"}}},
{"data": {"values": [{}]}, "mark": {"type": "text", "text": "= 0.728", "fontSize": 25, "dx": 23, "align": "left", "baseline": "alphabetic", "color": "#262626"},
 "encoding": {"x": {"datum": 43.5, "type": "quantitative"}, "y": {"datum": 22.5, "type": "quantitative"}}},
{"data": {"values": [{}]}, "mark": {"type": "text", "text": "P", "fontStyle": "italic", "fontSize": 25, "dx": 3, "dy": 31, "align": "left", "baseline": "alphabetic", "color": "#262626"},
 "encoding": {"x": {"datum": 43.5, "type": "quantitative"}, "y": {"datum": 22.5, "type": "quantitative"}}},
{"data": {"values": [{}]}, "mark": {"type": "text", "text": "< 0.001", "fontSize": 25, "dx": 26, "dy": 31, "align": "left", "baseline": "alphabetic", "color": "#262626"},
 "encoding": {"x": {"datum": 43.5, "type": "quantitative"}, "y": {"datum": 22.5, "type": "quantitative"}}}
]
}
]
},
{
"bounds": "flush",
"spacing": 177,
"hconcat": [
{
"width": 298, "height": 264,
"title": "Enhancement",
"layer": [
{"data": {"name": "enh"}, "mark": {"type": "circle", "size": 21, "color": "#1a1a1a", "opacity": 1},
 "encoding": {
  "x": {"field": "x", "type": "quantitative", "scale": {"domain": [0, 50], "nice": false}, "axis": {"values": [0, 20, 40], "title": "AUDIT"}},
  "y": {"field": "y", "type": "quantitative", "scale": {"domain": [0, 10], "nice": false}, "axis": {"values": [0, 5, 10], "title": "DBP - 20"}}}},
{"data": {"values": [{}]}, "mark": {"type": "text", "text": "r", "fontStyle": "italic", "fontSize": 25, "align": "left", "baseline": "alphabetic", "color": "#262626"},
 "encoding": {"x": {"datum": 42.8, "type": "quantitative"}, "y": {"datum": 9.4, "type": "quantitative"}}},
{"data": {"values": [{}]}, "mark": {"type": "text", "text": "s", "fontSize": 16, "dx": 12, "dy": 6, "align": "left", "baseline": "alphabetic", "color": "#262626"},
 "encoding": {"x": {"datum": 42.8, "type": "quantitative"}, "y": {"datum": 9.4, "type": "quantitative"}}},
{"data": {"values": [{}]}, "mark": {"type": "text", "text": "= 0.491", "fontSize": 25, "dx": 25, "align": "left", "baseline": "alphabetic", "color": "#262626"},
 "encoding": {"x": {"datum": 42.8, "type": "quantitative"}, "y": {"datum": 9.4, "type": "quantitative"}}},
{"data": {"values": [{}]}, "mark": {"type": "text", "text": "P", "fontStyle": "italic", "fontSize": 25, "dx": 2, "dy": 31, "align": "left", "baseline": "alphabetic", "color": "#262626"},
 "encoding": {"x": {"datum": 42.8, "type": "quantitative"}, "y": {"datum": 9.4, "type": "quantitative"}}},
{"data": {"values": [{}]}, "mark": {"type": "text", "text": "< 0.001", "fontSize": 25, "dx": 25, "dy": 31, "align": "left", "baseline": "alphabetic", "color": "#262626"},
 "encoding": {"x": {"datum": 42.8, "type": "quantitative"}, "y": {"datum": 9.4, "type": "quantitative"}}}
]
},
{
"width": 310, "height": 264,
"title": "Social use",
"layer": [
{"data": {"name": "social"}, "mark": {"type": "circle", "size": 21, "color": "#1a1a1a", "opacity": 1},
 "encoding": {
  "x": {"field": "x", "type": "quantitative", "scale": {"domain": [0, 50], "nice": false}, "axis": {"values": [0, 20, 40], "title": "AUDIT"}},
  "y": {"field": "y", "type": "quantitative", "scale": {"domain": [0, 6], "nice": false}, "axis": {"values": [0, 3, 6], "title": "DBP - 20"}}}},
{"data": {"values": [{}]}, "mark": {"type": "text", "text": "r", "fontStyle": "italic", "fontSize": 25, "align": "left", "baseline": "alphabetic", "color": "#262626"},
 "encoding": {"x": {"datum": 43.2, "type": "quantitative"}, "y": {"datum": 5.64, "type": "quantitative"}}},
{"data": {"values": [{}]}, "mark": {"type": "text", "text": "s", "fontSize": 16, "dx": 11, "dy": 6, "align": "left", "baseline": "alphabetic", "color": "#262626"},
 "encoding": {"x": {"datum": 43.2, "type": "quantitative"}, "y": {"datum": 5.64, "type": "quantitative"}}},
{"data": {"values": [{}]}, "mark": {"type": "text", "text": "= 0.058", "fontSize": 25, "dx": 23, "align": "left", "baseline": "alphabetic", "color": "#262626"},
 "encoding": {"x": {"datum": 43.2, "type": "quantitative"}, "y": {"datum": 5.64, "type": "quantitative"}}},
{"data": {"values": [{}]}, "mark": {"type": "text", "text": "P", "fontStyle": "italic", "fontSize": 25, "dx": 2, "dy": 31, "align": "left", "baseline": "alphabetic", "color": "#262626"},
 "encoding": {"x": {"datum": 43.2, "type": "quantitative"}, "y": {"datum": 5.64, "type": "quantitative"}}},
{"data": {"values": [{}]}, "mark": {"type": "text", "text": "= 0.214", "fontSize": 25, "dx": 24, "dy": 31, "align": "left", "baseline": "alphabetic", "color": "#262626"},
 "encoding": {"x": {"datum": 43.2, "type": "quantitative"}, "y": {"datum": 5.64, "type": "quantitative"}}}
]
}
]
}
],
"config": {
 "font": "Liberation Serif",
 "view": {"stroke": null},
 "text": {"font": "Liberation Serif"},
 "axis": {"domainColor": "#d9d9d9", "domainWidth": 1.2, "ticks": false, "tickSize": 0, "grid": false,
   "labelFont": "Liberation Serif", "labelFontSize": 18, "labelColor": "#404040", "labelPadding": 13,
   "titleFont": "Liberation Serif", "titleFontSize": 21, "titleFontWeight": "normal", "titleColor": "#404040"},
 "axisX": {"titlePadding": 9, "labelFlush": false},
 "axisY": {"labelPadding": 15, "titlePadding": 10, "labelFlush": false},
 "title": {"font": "Liberation Serif", "fontSize": 25, "fontWeight": "normal", "color": "#262626", "offset": 26, "frame": "group", "anchor": "middle"}
}
}
